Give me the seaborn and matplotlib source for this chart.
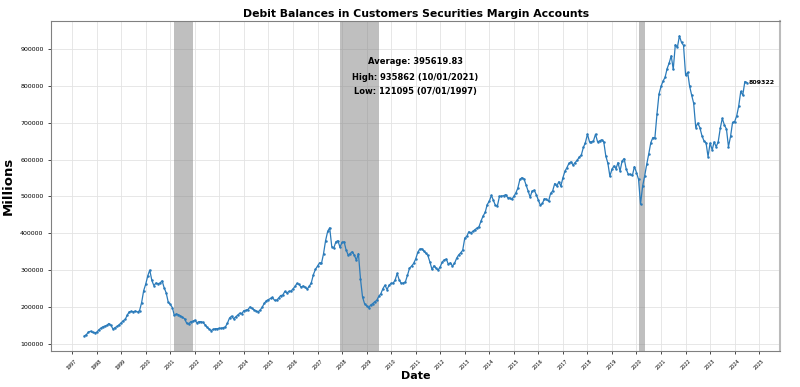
import pandas as pd
import matplotlib.pyplot as plt
import matplotlib.dates as mdates
import matplotlib.ticker as mticker
import seaborn as sns

# Monthly margin debit balances (millions)
vals_1997_2001 = [
    121095, 125000, 132000, 134000, 131000, 130000,
    131000, 138000, 142000, 146000, 148000, 150000, 155000, 150000, 140000, 144000, 147000, 152000,
    157000, 163000, 166000, 178000, 187000, 188000, 187000, 189000, 186000, 190000, 212000, 244000,
    262000, 285000, 300000, 272000, 258000, 265000, 263000, 265000, 271000, 252000, 238000, 213000,
    207000, 198000, 177000, 181000, 179000, 176000, 172000, 168000, 156000, 154000, 160000, 161000,
]
vals_2002_2006 = [
    164000, 157000, 160000, 160000, 158000, 152000, 145000, 140000, 136000, 139000, 141000, 141000,
    142000, 142000, 144000, 146000, 156000, 170000, 175000, 168000, 173000, 178000, 183000, 182000,
    190000, 191000, 193000, 200000, 196000, 192000, 189000, 187000, 192000, 200000, 210000, 217000,
    220000, 223000, 226000, 218000, 218000, 224000, 231000, 232000, 242000, 238000, 242000, 243000,
    249000, 256000, 264000, 261000, 254000, 257000, 253000, 249000, 256000, 266000, 288000, 302000,
]
vals_2007_2011 = [
    311000, 320000, 318000, 345000, 380000, 405000, 415000, 364000, 360000, 377000, 380000, 362000,
    375000, 377000, 355000, 341000, 345000, 350000, 341000, 327000, 345000, 277000, 227000, 209000,
    203000, 198000, 205000, 209000, 214000, 218000, 229000, 236000, 250000, 259000, 247000, 259000,
    264000, 265000, 273000, 291000, 273000, 264000, 265000, 268000, 286000, 305000, 311000, 318000,
    330000, 348000, 357000, 358000, 352000, 346000, 340000, 322000, 302000, 312000, 305000, 300000,
]
vals_2012_2016 = [
    309000, 322000, 328000, 330000, 316000, 320000, 311000, 318000, 332000, 341000, 347000, 354000,
    387000, 392000, 404000, 401000, 405000, 410000, 414000, 418000, 434000, 447000, 457000, 478000,
    487000, 503000, 490000, 476000, 474000, 500000, 501000, 502000, 505000, 497000, 496000, 492000,
    500000, 510000, 522000, 546000, 551000, 548000, 532000, 515000, 498000, 515000, 517000, 505000,
    490000, 476000, 481000, 494000, 492000, 487000, 508000, 515000, 535000, 528000, 540000, 528000,
]
vals_2017_2024 = [
    551000, 569000, 578000, 590000, 594000, 585000, 592000, 598000, 607000, 612000, 633000, 646000,
    669000, 648000, 648000, 651000, 669000, 648000, 651000, 654000, 648000, 610000, 590000, 555000,
    574000, 583000, 575000, 592000, 569000, 596000, 603000, 574000, 560000, 560000, 557000, 581000,
    565000, 546000, 479000, 528000, 555000, 587000, 615000, 646000, 660000, 659000, 724000, 778000,
    799000, 814000, 823000, 847000, 862000, 882000, 845000, 912000, 905000, 935862, 918000, 910000,
    829000, 837000, 800000, 775000, 753000, 687000, 699000, 687000, 665000, 651000, 646000, 608000,
    645000, 626000, 648000, 635000, 648000, 685000, 712000, 694000, 683000, 635000, 663000, 701000,
    703000, 719000, 745000, 785000, 775000, 812000, 809322,
]

recession_start = ["2001-03-01", "2007-12-01", "2020-02-01"]
recession_end = ["2001-12-01", "2009-07-01", "2020-05-01"]
avg_text = "Average: 395619.83"

values = vals_1997_2001 + vals_2002_2006 + vals_2007_2011 + vals_2012_2016 + vals_2017_2024
df = pd.DataFrame({
    "Date": pd.date_range("1997-07-01", periods=len(values), freq="MS"),
    "Value": values,
})

fig, ax = plt.subplots(figsize=(8, 3.87), dpi=100)
fig.subplots_adjust(left=0.064, right=0.975, bottom=0.093, top=0.946)

# recession shading
for s, e in zip(recession_start, recession_end):
    ax.axvspan(pd.Timestamp(s), pd.Timestamp(e), color="gray", alpha=0.5, lw=0)

sns.lineplot(data=df, x="Date", y="Value", ax=ax, color="#2b7bba",
             marker="o", markersize=1.8, markeredgewidth=0, linewidth=0.9)

ax.set_axisbelow(True)
ax.grid(True, color="#e3e3e3", linewidth=0.6)
for sp in ax.spines.values():
    sp.set_color("gray")
ax.spines["right"].set_color("#bbbbbb")
ax.spines["right"].set_linewidth(1.5)

ax.xaxis.set_major_locator(mdates.YearLocator())
ax.xaxis.set_major_formatter(mdates.DateFormatter("%Y"))
ax.yaxis.set_major_formatter(mticker.FormatStrFormatter("%d"))
ax.tick_params(axis="x", labelsize=3.5, rotation=45, length=2, width=0.5)
ax.tick_params(axis="y", labelsize=4.5, length=2, width=0.5)

ax.set_title("Debit Balances in Customers Securities Margin Accounts",
             fontsize=7.8, fontweight="bold", pad=3)
ax.set_xlabel("Date", fontsize=8, fontweight="bold", labelpad=0)
ax.set_ylabel("Millions", fontsize=9.5, fontweight="bold")

# summary text
hi = df.loc[df["Value"].idxmax()]
lo = df.loc[df["Value"].idxmin()]
ax.text(0.5, 0.876, avg_text, transform=ax.transAxes, ha="center", va="center",
        fontsize=6, fontweight="bold")
ax.text(0.5, 0.830, f"High: {hi['Value']:.0f} ({hi['Date']:%m/%d/%Y})", transform=ax.transAxes,
        ha="center", va="center", fontsize=6, fontweight="bold")
ax.text(0.5, 0.785, f"Low: {lo['Value']:.0f} ({lo['Date']:%m/%d/%Y})", transform=ax.transAxes,
        ha="center", va="center", fontsize=6, fontweight="bold")

last = df.iloc[-1]
ax.annotate(f"{last['Value']:.0f}", (last["Date"], last["Value"]), xytext=(1.5, 0),
            textcoords="offset points", va="center", fontsize=4.5, fontweight="bold")

plt.savefig("out.png", dpi=100)
